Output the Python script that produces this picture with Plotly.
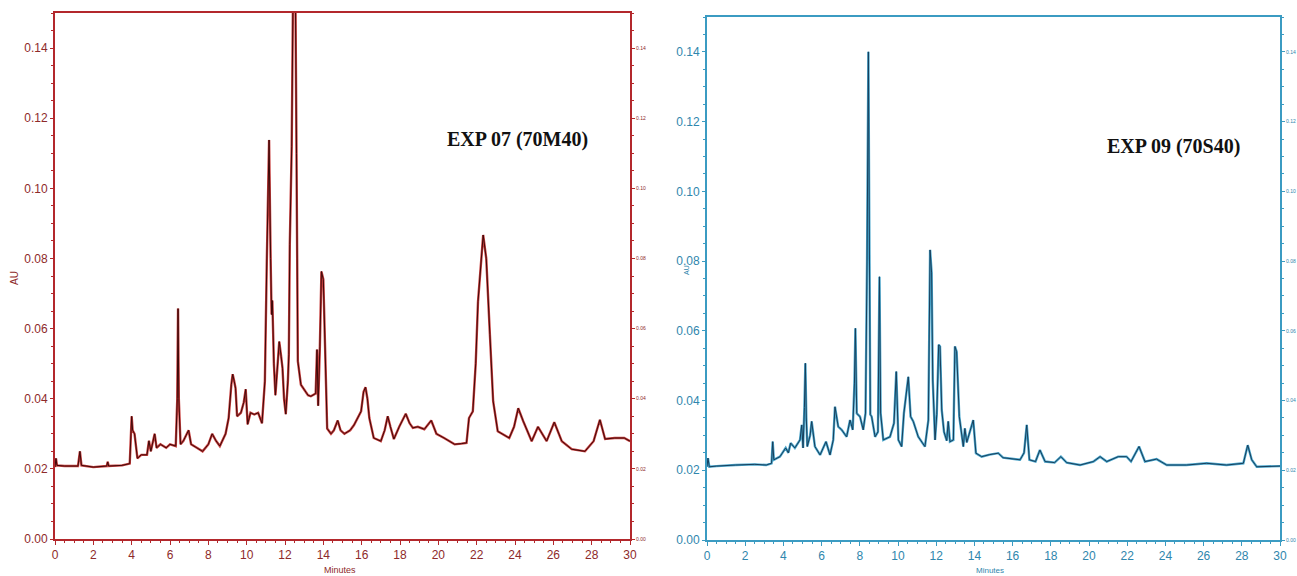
import plotly.graph_objects as go

# ---------------- data ----------------
left_time = [0.0, 0.05, 0.1, 0.5, 1.2, 1.3, 1.38, 2.0, 2.7, 2.75, 2.8, 3.5, 3.9, 4.0, 4.05, 4.15,
             4.3, 4.5, 4.8, 4.9, 5.0, 5.2, 5.3, 5.5, 5.8, 6.0, 6.3, 6.38, 6.42, 6.46, 6.55, 6.7,
             6.97, 7.1, 7.4, 7.7, 8.0, 8.2, 8.4, 8.6, 8.9, 9.06, 9.2, 9.27, 9.35, 9.42, 9.5, 9.7,
             9.85, 9.95, 10.05, 10.2, 10.4, 10.6, 10.8, 10.95, 11.05, 11.17, 11.25, 11.3, 11.34,
             11.42, 11.5, 11.62, 11.7, 11.8, 11.87, 11.95, 12.04, 12.15, 12.2, 12.25, 12.35, 12.45,
             12.52, 12.6, 12.63, 12.67, 12.83, 13.0, 13.2, 13.35, 13.6, 13.67, 13.73, 13.82, 13.9,
             14.0, 14.08, 14.2, 14.4, 14.55, 14.75, 14.9, 15.1, 15.4, 15.6, 15.97, 16.1, 16.2, 16.3,
             16.4, 16.63, 17.0, 17.2, 17.36, 17.5, 17.68, 17.96, 18.3, 18.5, 18.67, 18.93, 19.27,
             19.63, 19.9, 20.3, 20.85, 21.2, 21.47, 21.6, 21.8, 21.95, 22.07, 22.34, 22.5, 22.69,
             22.86, 23.1, 23.7, 23.95, 24.17, 24.43, 24.87, 25.2, 25.65, 26.05, 26.44, 26.96, 27.65,
             28.1, 28.43, 28.7, 29.2, 29.7, 30.0]
left_au = [0.0205, 0.023, 0.021, 0.0208, 0.0208, 0.025, 0.021, 0.0205, 0.0208, 0.022, 0.0208, 0.021,
           0.0215, 0.035, 0.031, 0.030, 0.023, 0.024, 0.024, 0.028, 0.025, 0.030, 0.026, 0.027, 0.026,
           0.027, 0.0265, 0.040, 0.0657, 0.040, 0.027, 0.028, 0.031, 0.027, 0.026, 0.025, 0.027, 0.030,
           0.028, 0.0265, 0.030, 0.0345, 0.044, 0.047, 0.045, 0.043, 0.035, 0.036, 0.039, 0.0427,
           0.0327, 0.036, 0.0355, 0.036, 0.033, 0.045, 0.079, 0.1138, 0.080, 0.064, 0.068, 0.050,
           0.041, 0.050, 0.0563, 0.052, 0.0487, 0.040, 0.0356, 0.045, 0.0526, 0.084, 0.112, 0.175,
           0.175, 0.110, 0.075, 0.0507, 0.044, 0.0427, 0.041, 0.0407, 0.0415, 0.054, 0.038, 0.055,
           0.0763, 0.074, 0.0563, 0.0315, 0.030, 0.031, 0.0338, 0.031, 0.030, 0.031, 0.0325, 0.0364,
           0.042, 0.0433, 0.040, 0.0345, 0.0288, 0.0279, 0.031, 0.035, 0.032, 0.0285, 0.032, 0.0357,
           0.033, 0.0317, 0.032, 0.0313, 0.0338, 0.0300, 0.0288, 0.027, 0.0272, 0.0274, 0.0345,
           0.0364, 0.050, 0.0677, 0.0867, 0.080, 0.0583, 0.0393, 0.0307, 0.0288, 0.032, 0.0373,
           0.0336, 0.0279, 0.032, 0.0279, 0.0333, 0.0279, 0.0256, 0.025, 0.0279, 0.034, 0.0285,
           0.0288, 0.0288, 0.0279]

right_time = [0.0, 0.05, 0.12, 0.5, 1.5, 2.5, 3.1, 3.38, 3.44, 3.5, 3.82, 4.12, 4.26, 4.38, 4.6, 4.87,
              4.96, 5.03, 5.1, 5.15, 5.2, 5.25, 5.4, 5.48, 5.65, 5.92, 6.23, 6.44, 6.61, 6.7, 6.87,
              7.05, 7.31, 7.49, 7.63, 7.72, 7.77, 7.84, 8.01, 8.18, 8.3, 8.38, 8.45, 8.5, 8.55, 8.62,
              8.8, 8.95, 9.0, 9.03, 9.09, 9.23, 9.58, 9.79, 9.91, 10.02, 10.19, 10.31, 10.54, 10.66,
              10.8, 11.06, 11.41, 11.59, 11.68, 11.76, 11.82, 11.94, 12.03, 12.13, 12.2, 12.29, 12.41,
              12.55, 12.63, 12.72, 12.9, 12.98, 13.07, 13.21, 13.42, 13.5, 13.6, 13.77, 13.94, 14.08,
              14.38, 14.8, 15.25, 15.5, 16.0, 16.39, 16.6, 16.74, 16.88, 17.2, 17.43, 17.7, 18.2,
              18.53, 18.83, 19.53, 20.23, 20.58, 20.93, 21.53, 21.97, 22.2, 22.62, 22.93, 23.54,
              24.07, 25.1, 26.16, 27.2, 28.08, 28.31, 28.52, 28.78, 29.83, 30.0]
right_au = [0.021, 0.0235, 0.021, 0.0212, 0.0215, 0.0217, 0.0215, 0.022, 0.0282, 0.023, 0.0239, 0.0264,
            0.025, 0.0278, 0.0264, 0.0287, 0.033, 0.0264, 0.038, 0.0507, 0.035, 0.0268, 0.030, 0.034,
            0.0268, 0.0244, 0.0282, 0.0244, 0.0287, 0.0382, 0.0325, 0.0316, 0.0296, 0.0344, 0.0316,
            0.045, 0.0607, 0.0363, 0.0354, 0.0316, 0.0364, 0.080, 0.140, 0.080, 0.036, 0.0354, 0.0296,
            0.031, 0.055, 0.0755, 0.0364, 0.0287, 0.0296, 0.0335, 0.0483, 0.0287, 0.0268, 0.0364,
            0.0468, 0.0354, 0.034, 0.0296, 0.0268, 0.0344, 0.0832, 0.0766, 0.0459, 0.0287, 0.036,
            0.056, 0.0555, 0.0373, 0.031, 0.0285, 0.034, 0.0282, 0.0287, 0.0555, 0.054, 0.0354,
            0.0268, 0.032, 0.028, 0.0316, 0.0344, 0.0249, 0.0239, 0.0245, 0.0249, 0.0236, 0.0232,
            0.023, 0.025, 0.033, 0.023, 0.0225, 0.0258, 0.0225, 0.0222, 0.0239, 0.0222, 0.0215,
            0.0225, 0.0239, 0.0225, 0.0239, 0.0239, 0.0225, 0.0268, 0.0225, 0.0232, 0.0215, 0.0215,
            0.022, 0.0215, 0.022, 0.0272, 0.023, 0.021, 0.0213, 0.0212]

x_ticks = [0, 2, 4, 6, 8, 10, 12, 14, 16, 18, 20, 22, 24, 26, 28, 30]
y_ticks = [0.00, 0.02, 0.04, 0.06, 0.08, 0.10, 0.12, 0.14]
y_labels = ["0.00", "0.02", "0.04", "0.06", "0.08", "0.10", "0.12", "0.14"]
titles = ["EXP 07 (70M40)", "EXP 09 (70S40)"]

# ---------------- styling ----------------
W, H = 1297, 576
RED_AX = "#b3282c"
RED_TXT = "#8e2a2a"
RED_EDGE = "#c8403f"
RED_CORE = "#3f0808"
BLUE_AX = "#3b9bc2"
BLUE_TXT = "#2f86ad"
BLUE_EDGE = "#4aa6cc"
BLUE_CORE = "#173f5c"

def px_x(p):
    return p / W

def px_y(p):
    return 1 - p / H

fig = go.Figure()

# left panel: coloured halo then dark core
fig.add_trace(go.Scatter(x=left_time, y=left_au, mode="lines", xaxis="x", yaxis="y",
                         line=dict(color=RED_EDGE, width=2.4), hoverinfo="skip", showlegend=False))
fig.add_trace(go.Scatter(x=left_time, y=left_au, mode="lines", xaxis="x", yaxis="y",
                         line=dict(color=RED_CORE, width=1.0), showlegend=False))
# right panel
fig.add_trace(go.Scatter(x=right_time, y=right_au, mode="lines", xaxis="x2", yaxis="y2",
                         line=dict(color=BLUE_EDGE, width=2.4), hoverinfo="skip", showlegend=False))
fig.add_trace(go.Scatter(x=right_time, y=right_au, mode="lines", xaxis="x2", yaxis="y2",
                         line=dict(color=BLUE_CORE, width=1.0), showlegend=False))

def xaxis_cfg(dom, col, txt, anchor):
    return dict(domain=dom, range=[0, 30], tickvals=x_ticks, ticktext=[str(v) for v in x_ticks],
                showline=True, linecolor=col, linewidth=2, mirror=True,
                ticks="outside", ticklen=4, tickcolor=col, tickwidth=1,
                minor=dict(dtick=0.5, ticks="outside", ticklen=2, tickcolor=col),
                tickfont=dict(family="Liberation Sans, Arial", size=12, color=txt),
                showgrid=False, zeroline=False, anchor=anchor, fixedrange=True,
                automargin=False)

def yaxis_cfg(dom, col, txt, anchor, fs):
    return dict(domain=dom, range=[0, 0.15], tickvals=y_ticks, ticktext=y_labels,
                showline=True, linecolor=col, linewidth=2,
                ticks="outside", ticklen=3, tickcolor=col,
                minor=dict(dtick=0.005, ticks="outside", ticklen=2, tickcolor=col),
                tickfont=dict(family="Liberation Sans, Arial", size=fs, color=txt),
                showgrid=False, zeroline=False, anchor=anchor, fixedrange=True,
                automargin=False)

lx = [px_x(55), px_x(630)]
ly = [px_y(539), px_y(13)]
rx = [px_x(707), px_x(1280)]
ry = [px_y(540), px_y(17)]

fig.update_layout(
    width=W, height=H, autosize=False,
    margin=dict(l=0, r=0, t=0, b=0, pad=0),
    paper_bgcolor="white", plot_bgcolor="white",
    showlegend=False,
    xaxis=xaxis_cfg(lx, RED_AX, RED_TXT, "y"),
    yaxis=yaxis_cfg(ly, RED_AX, RED_TXT, "x", 12),
    yaxis3=dict(yaxis_cfg(ly, RED_AX, RED_TXT, "x", 5), overlaying="y", side="right"),
    xaxis2=xaxis_cfg(rx, BLUE_AX, BLUE_TXT, "y2"),
    yaxis2=yaxis_cfg(ry, BLUE_AX, BLUE_TXT, "x2", 12),
    yaxis4=dict(yaxis_cfg(ry, BLUE_AX, BLUE_TXT, "x2", 5), overlaying="y2", side="right"),
)

# empty traces so the right-hand mirrored axes render
fig.add_trace(go.Scatter(x=[None], y=[None], xaxis="x", yaxis="y3", showlegend=False))
fig.add_trace(go.Scatter(x=[None], y=[None], xaxis="x2", yaxis="y4", showlegend=False))

def note(text, x, y, size, color, family="Liberation Sans, Arial", angle=0, yanchor="middle"):
    return dict(text=text, x=px_x(x), y=px_y(y), xref="paper", yref="paper",
                xanchor="center", yanchor=yanchor, textangle=angle, showarrow=False,
                font=dict(family=family, size=size, color=color))

SERIF = "Liberation Serif, Times New Roman"
annotations = [
    note("<b>" + titles[0] + "</b>", 517, 139, 20, "#111111", SERIF),
    note("<b>" + titles[1] + "</b>", 1173, 147, 20, "#111111", SERIF),
    note("AU", 14, 278, 10, RED_TXT, angle=-90),
    note("AU", 686, 270, 7, BLUE_TXT, angle=-90),
    note("Minutes", 340, 563, 9, RED_TXT, yanchor="top"),
    note("Minutes", 990, 564, 8, BLUE_TXT, yanchor="top"),
]
fig.update_layout(annotations=annotations)

fig.write_html("out.html",
               config={"displayModeBar": False},
               post_script="document.body.style.margin='0';document.body.style.overflow='hidden';")
